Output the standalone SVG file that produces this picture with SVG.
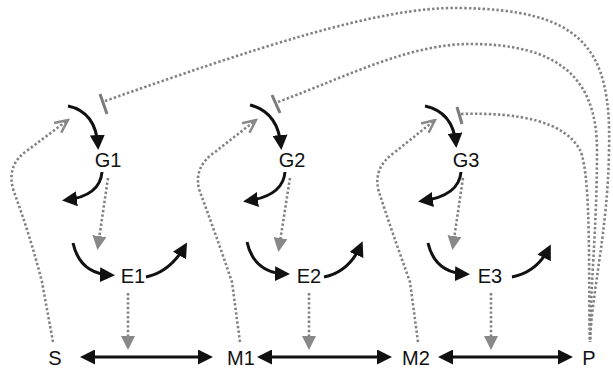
<svg xmlns="http://www.w3.org/2000/svg" width="613" height="371" viewBox="0 0 613 371">
<defs>
<style>
.lbl{font-family:"Liberation Sans",Arial,sans-serif;font-size:20px;fill:#111;text-anchor:middle}
.blk{fill:none;stroke:#111;stroke-width:3}
.arc{marker-end:url(#ah)}
.dbl{marker-start:url(#ah);marker-end:url(#ah)}
.dot{fill:none;stroke:#828282;stroke-width:2.6;stroke-dasharray:2.4 2.2}
.act{marker-end:url(#gh)}
.open{marker-end:url(#oh)}
.bar{stroke:#7a7a7a;stroke-width:3}
</style>
<marker id="ah" markerUnits="userSpaceOnUse" viewBox="0 0 15 15" markerWidth="15" markerHeight="15" refX="11" refY="7.5" orient="auto-start-reverse">
<path d="M0,0 L15,7.5 L0,15 z" fill="#111"/>
</marker>
<marker id="gh" markerUnits="userSpaceOnUse" viewBox="0 0 14 14" markerWidth="14" markerHeight="14" refX="10" refY="7" orient="auto">
<path d="M0,0 L14,7 L0,14 z" fill="#888"/>
</marker>
<marker id="oh" markerUnits="userSpaceOnUse" viewBox="-2 -2 17 16" markerWidth="17" markerHeight="16" refX="13" refY="6" orient="auto">
<path d="M0,0 L13,6 L0,12" fill="none" stroke="#888" stroke-width="2.5"/>
</marker>
</defs>
<rect width="613" height="371" fill="#fff"/>
<g id="connectors">
<path class="dot" d="M105,101 C250,50 380,6 460,8 C580,10 612,45 609,150 C608,230 592,290 590,342"/>
<path class="dot" d="M278,102 C350,75 410,44 470,44 C555,44 597,75 597,150 C597,230 590,290 590,342"/>
<path class="dot" d="M461,114 C520,112 565,122 580,150 C592,175 588,290 590,342"/>
<line class="bar" x1="100" y1="94" x2="107" y2="114"/>
<line class="bar" x1="272" y1="95" x2="280" y2="113"/>
<line class="bar" x1="457" y1="107" x2="462" y2="124"/>
<path class="dot open" d="M53,342 L42,282 Q30,235 14,192 Q5,165 28,150 L68,120"/>
<path class="dot open" d="M240,342 L232,282 Q215,232 200,192 Q192,168 215,152 L256,120"/>
<path class="dot open" d="M418,342 L410,282 Q392,232 379,192 Q372,168 395,152 L435,120"/>
<path class="blk arc" d="M68,106 Q96,112 98,146"/>
<path class="blk arc" d="M102,172 Q100,196 66,200"/>
<path class="dot act" d="M108,178 L98,246"/>
<path class="blk arc" d="M73,243 Q80,274 111,275"/>
<path class="blk arc" d="M146,277 Q170,272 185,246"/>
<path class="dot act" d="M128,293 L128,346"/>
<path class="blk arc" d="M250,105 Q278,112 281,146"/>
<path class="blk arc" d="M285,172 Q283,196 247,201"/>
<path class="dot act" d="M290,178 L279,248"/>
<path class="blk arc" d="M247,242 Q254,273 286,274"/>
<path class="blk arc" d="M324,277 Q349,272 361,245"/>
<path class="dot act" d="M309,293 L309,346"/>
<path class="blk arc" d="M425,106 Q453,112 456,144"/>
<path class="blk arc" d="M461,172 Q459,196 422,201"/>
<path class="dot act" d="M463,178 L453,246"/>
<path class="blk arc" d="M428,243 Q435,273 466,274"/>
<path class="blk arc" d="M512,277 Q537,272 549,248"/>
<path class="dot act" d="M491,293 L491,346"/>
<path class="blk dbl" d="M84,357 L209,357"/>
<path class="blk dbl" d="M261,357 L388,357"/>
<path class="blk dbl" d="M442,357 L569,357"/>
</g>
<g id="G1"><text class="lbl" x="108" y="167">G1</text></g>
<g id="G2"><text class="lbl" x="292" y="167">G2</text></g>
<g id="G3"><text class="lbl" x="466" y="167">G3</text></g>
<g id="E1"><text class="lbl" x="133" y="283">E1</text></g>
<g id="E2"><text class="lbl" x="309" y="283">E2</text></g>
<g id="E3"><text class="lbl" x="490" y="283">E3</text></g>
<g id="S"><text class="lbl" x="55" y="365">S</text></g>
<g id="M1"><text class="lbl" x="241" y="365">M1</text></g>
<g id="M2"><text class="lbl" x="416" y="365">M2</text></g>
<g id="P"><text class="lbl" x="589" y="365">P</text></g>
</svg>
